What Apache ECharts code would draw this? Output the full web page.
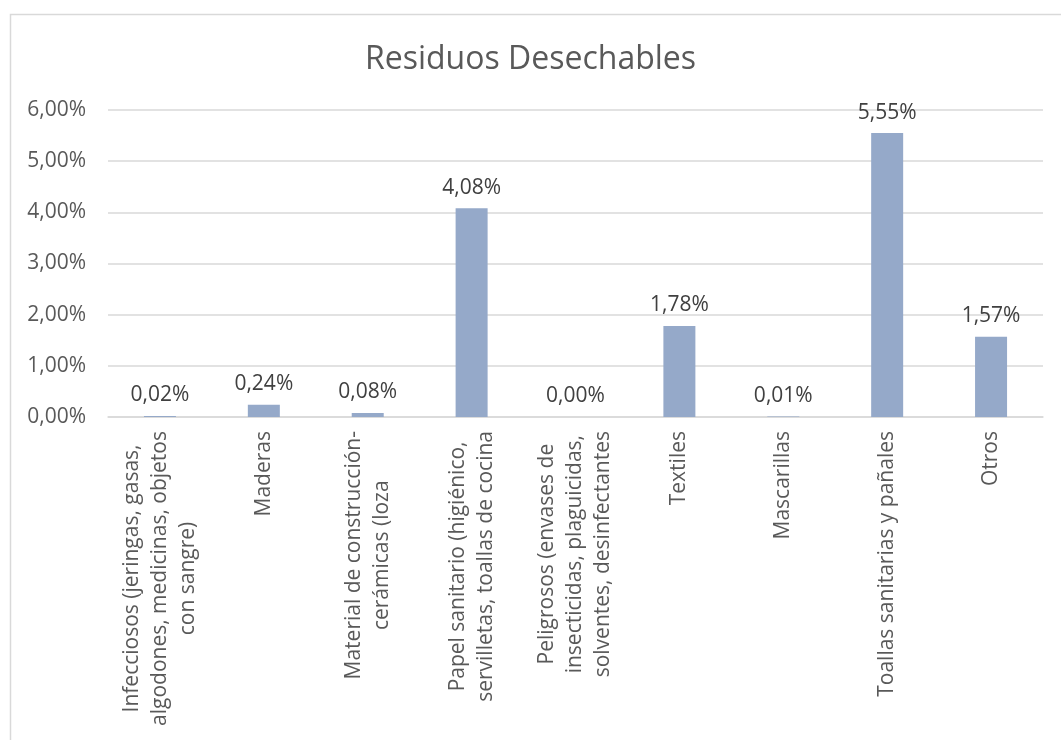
<!DOCTYPE html>
<html>
<head>
<meta charset="utf-8">
<script src="https://cdn.jsdelivr.net/npm/echarts@6/dist/echarts.min.js"></script>
<style>html,body{margin:0;padding:0;background:#fff;}#c{width:1061px;height:740px;}</style>
</head>
<body>
<div id="c"></div>
<script>
const titleText = 'Residuos Desechables';
const categories = [
  'Infecciosos (jeringas, gasas,\nalgodones, medicinas, objetos\ncon sangre)',
  'Maderas',
  'Material de construcción-\ncerámicas (loza',
  'Papel sanitario (higiénico,\nservilletas, toallas de cocina',
  'Peligrosos (envases de\ninsecticidas, plaguicidas,\nsolventes, desinfectantes',
  'Textiles',
  'Mascarillas',
  'Toallas sanitarias y pañales',
  'Otros'
];
const values = [0.0002, 0.0024, 0.0008, 0.0408, 0.0000, 0.0178, 0.0001, 0.0555, 0.0157];
const yTicks = {min: 0, max: 0.06, interval: 0.01};

const FONT = '"Open Sans", sans-serif';
const fmtPct = v => (v * 100).toFixed(2).replace('.', ',') + '%';

const chart = echarts.init(document.getElementById('c'), null, {renderer: 'canvas'});
chart.setOption({
  backgroundColor: '#fff',
  animation: false,
  graphic: [{
    type: 'rect', left: 8, top: 12,
    shape: {width: 1100, height: 800},
    style: {fill: 'none', stroke: '#d9d9d9', lineWidth: 1.5},
    silent: true, z: -1
  }],
  title: {
    text: titleText, left: 'center', top: 39,
    textStyle: {fontFamily: FONT, fontSize: 32, fontWeight: 'normal', color: '#595959'}
  },
  grid: {left: 108, right: 18, top: 110, bottom: 323, containLabel: false},
  xAxis: {
    type: 'category', data: categories,
    axisLine: {show: true, lineStyle: {color: '#d9d9d9', width: 1.5}},
    axisTick: {show: false},
    axisLabel: {
      interval: 0, rotate: 90, margin: 14,
      formatter: v => v.split('\n').map(l => '{a|' + l + '}').join('\n'),
      rich: {a: {align: 'center', fontFamily: FONT, fontSize: 21, lineHeight: 28, color: '#595959'}}
    }
  },
  yAxis: {
    type: 'value', min: yTicks.min, max: yTicks.max, interval: yTicks.interval,
    axisLine: {show: false}, axisTick: {show: false},
    splitLine: {lineStyle: {color: '#d9d9d9', width: 1.5}},
    axisLabel: {formatter: fmtPct, fontFamily: FONT, fontSize: 21, color: '#595959', margin: 22}
  },
  series: [{
    type: 'bar', data: values, barWidth: 32,
    itemStyle: {color: '#95a9c9'},
    label: {
      show: true, position: 'top', distance: 10,
      formatter: p => fmtPct(p.value),
      fontFamily: FONT, fontSize: 21, color: '#404040'
    }
  }]
});
</script>
</body>
</html>
